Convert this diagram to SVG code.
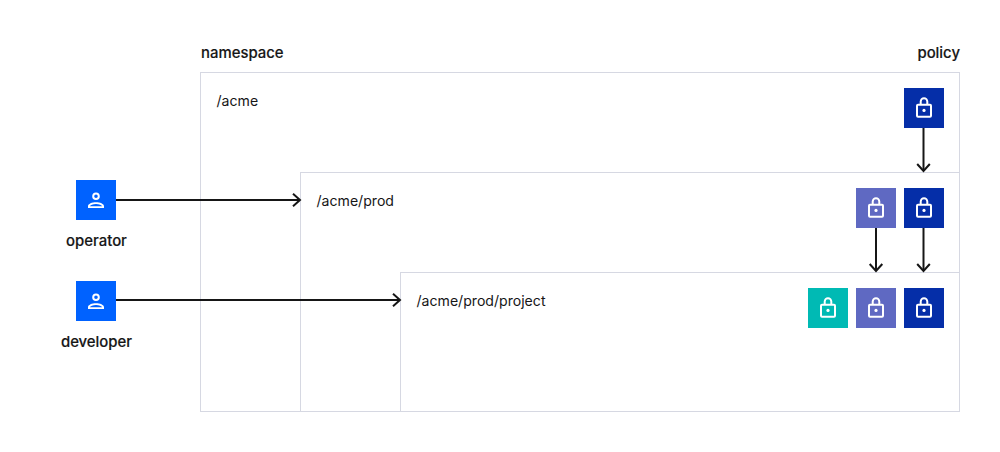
<svg xmlns="http://www.w3.org/2000/svg" width="1000" height="452" viewBox="0 0 1000 452">
<style>
text{font-family:Inter,"Liberation Sans",sans-serif;fill:#161616}
.b{font-size:14.900px;font-weight:500;stroke:#161616;stroke-width:.15px}
.p{font-size:14.100px;font-weight:400}
.box{fill:#fff;stroke:#d6d8e2;stroke-width:1}
.ic{fill:none;stroke:#fff;stroke-width:2}
.c{fill:none;stroke:#161616;stroke-width:2;marker-end:url(#a)}
.navy{fill:#052ea8}.mid{fill:#5f69c2}.teal{fill:#00bab4}.blue{fill:#0062ff}
</style>
<defs>
<marker id="a" markerUnits="userSpaceOnUse" markerWidth="16" markerHeight="16" refX="11" refY="8" orient="auto"><path d="M4 1.700L11 8L4 14.300" fill="none" stroke="#161616" stroke-width="2"/></marker>
<g id="lock"><rect class="ic" x="-7" y="-3.200" width="14" height="12" rx="1"/><path class="ic" d="M-3.300 -3.200V-6.400a3.300 3.300 0 0 1 6.600 0V-3.200"/><circle cx="0" cy="2.400" r="1.600" fill="#fff"/></g>
<g id="person"><circle class="ic" cx="0" cy="-3.800" r="2.800" stroke-width="1.800"/><path d="M-8 8V6.300C-8 3.800-4 2.300 0 2.300S8 3.800 8 6.300V8ZM-6.200 6.300H6.200C5.800 5 3 4 0 4S-5.800 5-6.200 6.300Z" fill="#fff" fill-rule="evenodd"/></g>
</defs>
<g id="ns-acme"><rect class="box" x="200.500" y="72.500" width="759" height="339"/><text class="p" x="216.500" y="106">/acme</text></g>
<g id="ns-prod"><rect class="box" x="300.500" y="172.500" width="659" height="239"/><text class="p" x="316.500" y="206">/acme/prod</text></g>
<g id="ns-project"><rect class="box" x="400.500" y="272.500" width="559" height="139"/><text class="p" x="416.500" y="306">/acme/prod/project</text></g>
<g id="label-namespace"><text class="b" x="201" y="58">namespace</text></g>
<g id="label-policy"><text class="b" x="960" y="58" text-anchor="end">policy</text></g>
<g id="operator"><rect class="blue" x="76" y="180" width="40" height="40"/><use href="#person" x="96" y="200"/><text class="b" x="96.500" y="246" text-anchor="middle">operator</text></g>
<g id="developer"><rect class="blue" x="76" y="281" width="40" height="40"/><use href="#person" x="96" y="301"/><text class="b" x="96.500" y="347" text-anchor="middle">developer</text></g>
<g id="policy-1"><rect class="navy" x="904" y="88" width="40" height="40"/><use href="#lock" x="924" y="108"/></g>
<g id="policy-2"><rect class="mid" x="856" y="188" width="40" height="40"/><use href="#lock" x="876" y="208"/></g>
<g id="policy-3"><rect class="navy" x="904" y="188" width="40" height="40"/><use href="#lock" x="924" y="208"/></g>
<g id="policy-4"><rect class="teal" x="808" y="288" width="40" height="40"/><use href="#lock" x="828" y="308"/></g>
<g id="policy-5"><rect class="mid" x="856" y="288" width="40" height="40"/><use href="#lock" x="876" y="308"/></g>
<g id="policy-6"><rect class="navy" x="904" y="288" width="40" height="40"/><use href="#lock" x="924" y="308"/></g>
<g id="connectors">
<path class="c" d="M116 200H300"/>
<path class="c" d="M116 300H400"/>
<path class="c" d="M923.500 128V171"/>
<path class="c" d="M876 228V271"/>
<path class="c" d="M923.500 228V271"/>
</g>
</svg>
